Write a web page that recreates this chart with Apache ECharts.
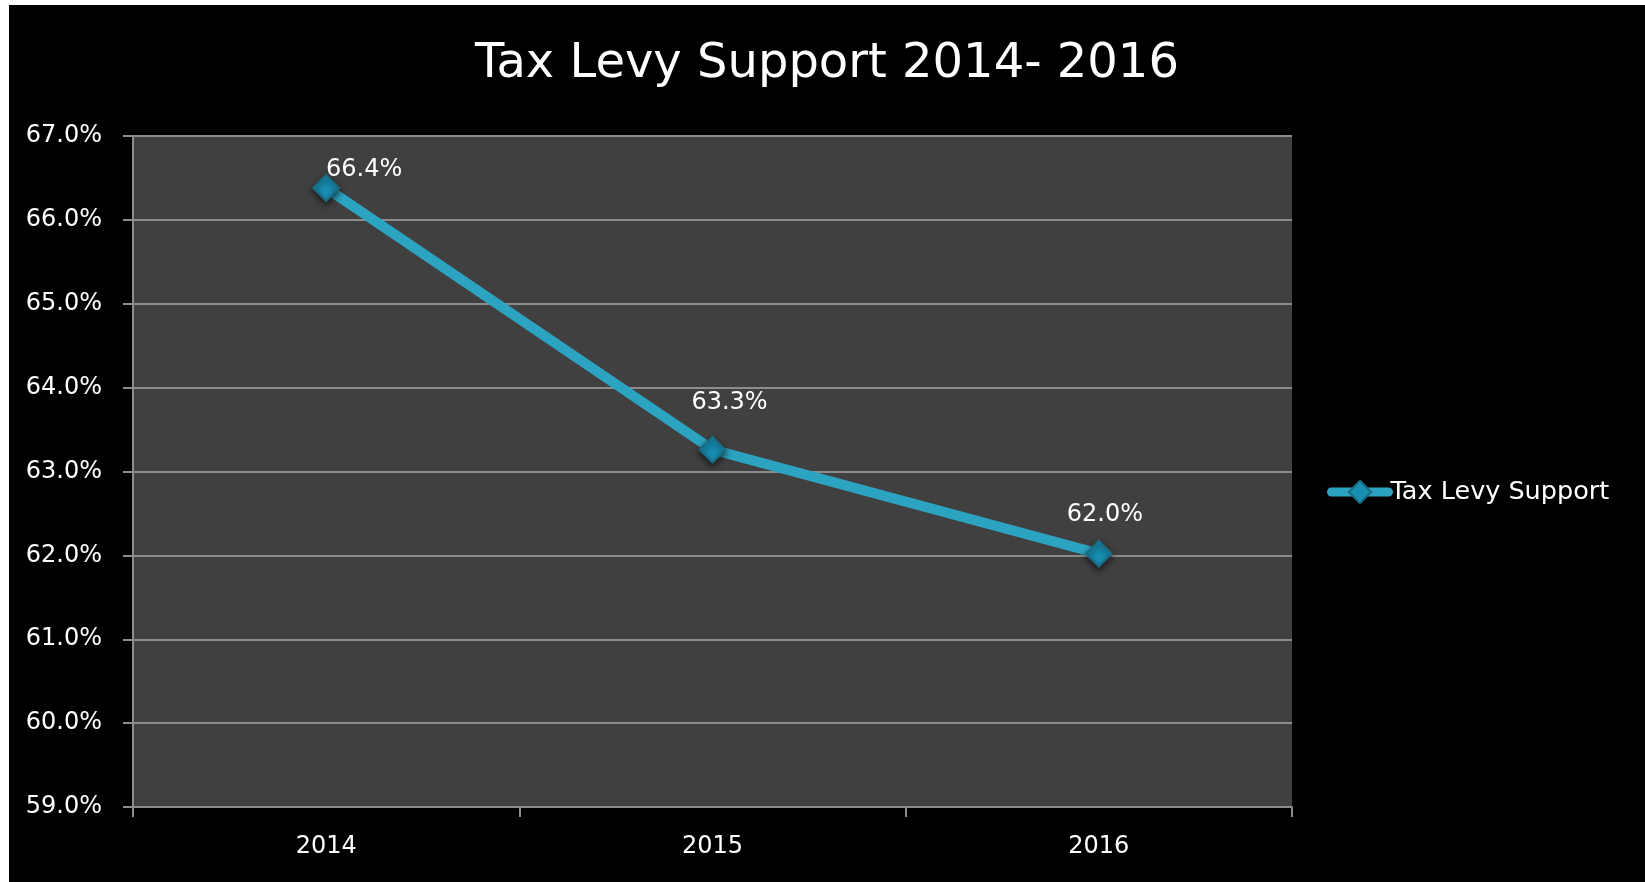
<!DOCTYPE html>
<html>
<head>
<meta charset="utf-8">
<script src="https://cdn.jsdelivr.net/npm/echarts@6/dist/echarts.min.js"></script>
<style>
html,body{margin:0;padding:0;background:#ffffff;width:1645px;height:882px;overflow:hidden;}
#chart{position:absolute;left:9px;top:5px;width:1636px;height:877px;background:#000000;}
</style>
</head>
<body>
<div id="chart"></div>
<script>
const titleText = 'Tax Levy Support 2014- 2016';
const seriesName = 'Tax Levy Support';
const categories = ['2014', '2015', '2016'];
const values = [66.38, 63.26, 62.02];
const valueLabels = ['66.4%', '63.3%', '62.0%'];
const labelOffsets = [[38, 14], [17, -15], [6, -7]];
const yMin = 59, yMax = 67, yStep = 1;

const chart = echarts.init(document.getElementById('chart'));
const font = '"DejaVu Sans", sans-serif';
chart.setOption({
  backgroundColor: '#000000',
  animation: false,
  title: {
    text: titleText,
    left: 'center',
    top: 31,
    textStyle: { color: '#ffffff', fontSize: 48, fontWeight: 'normal', fontFamily: font }
  },
  legend: {
    orient: 'vertical',
    left: 1313,
    top: 469,
    itemWidth: 57,
    itemHeight: 28,
    data: [{
      name: seriesName,
      lineStyle: { width: 9, cap: 'round', color: '#2ba3c1' }
    }],
    textStyle: { color: '#ffffff', fontSize: 25.5, fontFamily: font, padding: [0, 0, 0, -3] }
  },
  grid: { left: 124, top: 131, right: 353, bottom: 75, containLabel: false,
          show: true, backgroundColor: '#404040', borderWidth: 0 },
  xAxis: {
    type: 'category',
    data: categories,
    boundaryGap: true,
    axisLine: { lineStyle: { color: '#8c8c8c', width: 2 } },
    axisTick: { show: true, length: 10, lineStyle: { color: '#8c8c8c', width: 2 } },
    axisLabel: { color: '#ffffff', fontSize: 24, fontFamily: font, margin: 28 },
    splitLine: { show: false }
  },
  yAxis: {
    type: 'value',
    min: yMin, max: yMax, interval: yStep,
    axisLine: { show: true, lineStyle: { color: '#8c8c8c', width: 2 } },
    axisTick: { show: true, length: 10, lineStyle: { color: '#8c8c8c', width: 2 } },
    axisLabel: { color: '#ffffff', fontSize: 24, fontFamily: font, margin: 31,
                 formatter: v => v.toFixed(1) + '%' },
    splitLine: { show: true, lineStyle: { color: '#8c8c8c', width: 2 } }
  },
  series: [{
    name: seriesName,
    type: 'line',
    data: values.map((v, i) => ({
      value: v,
      label: { formatter: valueLabels[i], offset: labelOffsets[i] }
    })),
    symbol: 'diamond',
    symbolSize: 26,
    lineStyle: { color: '#2ba3c1', width: 10 },
    itemStyle: { color: '#178fb3', borderColor: '#1b6a80', borderWidth: 2,
                 shadowColor: 'rgba(0,0,0,0.6)', shadowBlur: 6, shadowOffsetY: 3 },
    label: { show: true, position: 'top', distance: 6, color: '#ffffff',
             fontSize: 24, fontFamily: font }
  }]
});
</script>
</body>
</html>
